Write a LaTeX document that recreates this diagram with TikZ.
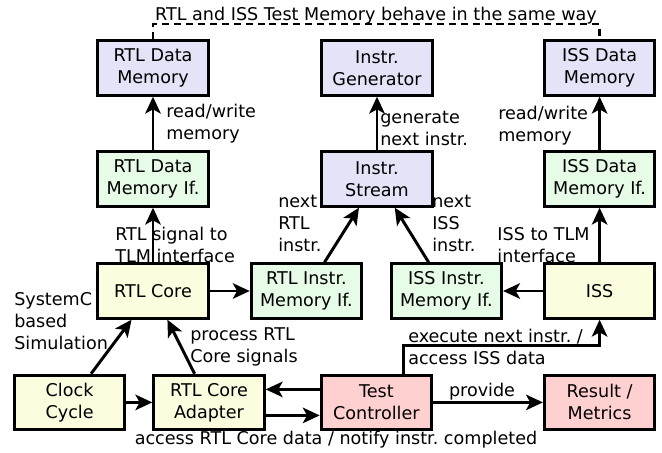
\documentclass[tikz,border=0pt]{standalone}
\usepackage{fontspec}
\setmainfont{DejaVu Sans}
\usetikzlibrary{arrows.meta}
\definecolor{memblue}{RGB}{228,228,248}
\definecolor{ifgreen}{RGB}{230,252,230}
\definecolor{coreyellow}{RGB}{252,252,222}
\definecolor{ctrlred}{RGB}{255,208,208}
\tikzset{
  blk/.style={draw, line width=2.1pt, minimum width=2.76cm, minimum height=1.36cm, align=center, inner sep=2pt},
  mem/.style={blk, fill=memblue},
  memif/.style={blk, fill=ifgreen},
  core/.style={blk, fill=coreyellow},
  ctrl/.style={blk, fill=ctrlred},
  lbl/.style={inner sep=0pt, align=left, anchor=west},
  conn/.style={line width=2.1pt, -{Stealth[length=12pt,width=11pt,inset=3pt]}}
}
\begin{document}
\frenchspacing
\begin{tikzpicture}
[font=\fontsize{12.5}{15.6}\selectfont]
  \useasboundingbox (0,0) rectangle (16.55,-11.325);
  % row 1
  \node [mem] (rtldm) at (3.825,-1.7) {RTL Data\\Memory};
  \node [mem] (gen) at (9.425,-1.7) {Instr.\\Generator};
  \node [mem] (issdm) at (14.99,-1.7) {ISS Data\\Memory};
  % row 2
  \node [memif] (rtldmif) at (3.825,-4.475) {RTL Data\\Memory If.};
  \node [mem] (stream) at (9.425,-4.475) {Instr.\\Stream};
  \node [memif] (issdmif) at (14.99,-4.475) {ISS Data\\Memory If.};
  % row 3
  \node [core] (rtlcore) at (3.825,-7.275) {RTL Core};
  \node [memif] (rtlimif) at (7.66,-7.275) {RTL Instr.\\Memory If.};
  \node [memif] (issimif) at (11.16,-7.275) {ISS Instr.\\Memory If.};
  \node [core] (iss) at (14.99,-7.275) {ISS};
  % row 4
  \node [core] (clock) at (1.74,-10.06) {Clock\\Cycle};
  \node [core] (adapter) at (5.225,-10.06) {RTL Core\\Adapter};
  \node [ctrl] (testctrl) at (9.41,-10.06) {Test\\Controller};
  \node [ctrl] (result) at (14.99,-10.06) {Result /\\Metrics};
  % labels
  \node [lbl] (l1) at (4.15,-3.09) {read/write\\memory};
  \node [lbl] (l2) at (2.875,-6.12) {RTL signal to\\TLM interface};
  \node [lbl] (l3) at (6.95,-5.58) {next\\RTL\\instr.};
  \node [lbl] (l4) at (10.8,-5.58) {next\\ISS\\instr.};
  \node [lbl] (l5) at (9.5,-3.22) {generate\\next instr.};
  \node [lbl] (l6) at (12.45,-3.15) {read/write\\memory};
  \node [lbl] (l7) at (12.43,-6.12) {ISS to TLM\\interface};
  \node [lbl] (l8) at (0.35,-8.03) {SystemC\\based\\Simulation};
  \node [lbl] (l9) at (4.75,-8.68) {process RTL\\Core signals};
  \node [lbl] (l10) at (10.2,-8.68) {execute next instr. /\\access ISS data};
  \node [inner sep=0pt] (l11) at (12.05,-9.8) {provide};
  \node [inner sep=0pt] (l12) at (8.4,-11.0) {access RTL Core data / notify instr. completed};
  \node [inner sep=0pt] (l13) at (9.4,-0.38) {RTL and ISS Test Memory behave in the same way};
  % connectors
  \foreach \from/\to in {rtldmif/rtldm,rtlcore/rtldmif,rtlcore/rtlimif,rtlimif/stream,
    issimif/stream,stream/gen,issdmif/issdm,iss/issdmif,iss/issimif,
    clock/rtlcore,adapter/rtlcore,clock/adapter,testctrl/result}
  \draw [conn] (\from) -- (\to);
  \draw [conn] ([yshift=0.325cm]testctrl.west) -- ([yshift=0.325cm]adapter.east);
  \draw [conn] ([yshift=-0.325cm]adapter.east) -- ([yshift=-0.325cm]testctrl.west);
  \draw [conn] ([xshift=0.675cm]testctrl.north) -- ++(0,0.7) -| (iss.south);
  \draw [line width=1.6pt, dash pattern=on 5pt off 3.5pt] (rtldm.north) -- ++(0,0.375) -| (issdm.north);
\end{tikzpicture}
\end{document}
